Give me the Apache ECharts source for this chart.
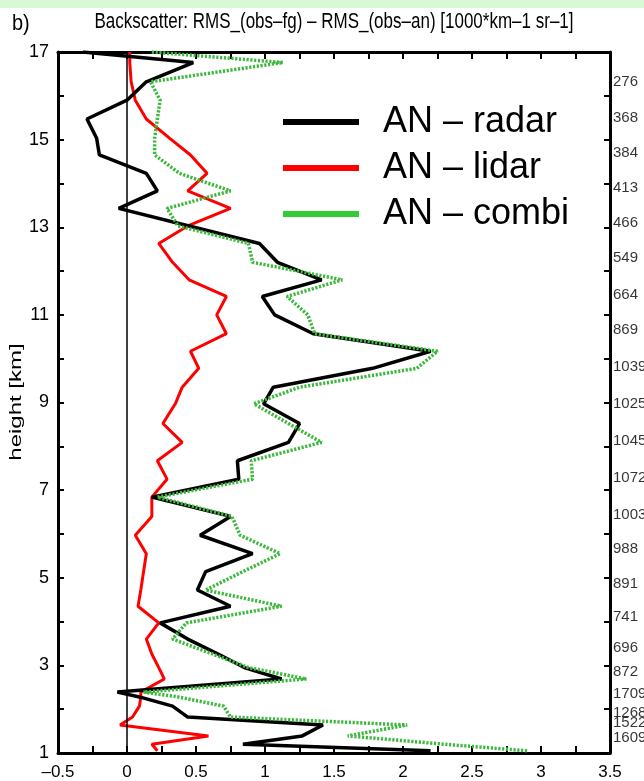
<!DOCTYPE html>
<html><head><meta charset="utf-8">
<script src="https://cdn.jsdelivr.net/npm/echarts@6/dist/echarts.min.js"></script>
<style>html,body{margin:0;padding:0;background:#fff}#c{width:644px;height:781px}</style>
</head><body><div id="c"></div>
<script>
// height levels [km] shared by the three profiles
const heights = [17.0, 16.76, 16.32, 15.9, 15.47, 15.03, 14.65, 14.23, 13.83, 13.43, 13.03, 12.63, 12.2, 11.8, 11.42, 11.0, 10.57, 10.17, 9.78, 9.35, 8.97, 8.52, 8.09, 7.67, 7.25, 6.84, 6.4, 5.97, 5.55, 5.14, 4.72, 4.35, 3.97, 3.6, 3.26, 2.95, 2.69, 2.39, 2.28, 2.07, 1.82, 1.64, 1.39, 1.2, 1.05];
// AN – radar (black)
const radar = [-0.32, 0.48, 0.14, 0.0, -0.29, -0.22, -0.20, 0.14, 0.22, -0.06, 0.45, 0.96, 1.09, 1.41, 0.98, 1.07, 1.35, 2.2, 1.78, 1.06, 0.99, 1.25, 1.17, 0.80, 0.81, 0.18, 0.75, 0.53, 0.91, 0.57, 0.51, 0.75, 0.24, 0.44, 0.66, 0.85, 1.12, -0.07, 0.09, 0.33, 0.44, 1.42, 1.27, 0.84, 2.2];
// AN – lidar (red)
const lidar = [0.02, 0.02, 0.03, 0.06, 0.14, 0.31, 0.46, 0.58, 0.44, 0.75, 0.44, 0.23, 0.33, 0.45, 0.72, 0.65, 0.72, 0.46, 0.52, 0.40, 0.35, 0.26, 0.40, 0.22, 0.29, 0.18, 0.18, 0.06, 0.14, 0.12, 0.10, 0.08, 0.23, 0.14, 0.18, 0.23, 0.27, 0.10, 0.10, 0.09, 0.04, -0.05, 0.59, 0.18, 0.22];
// AN – combi (green dotted)
const combi = [0.18, 1.13, 0.17, 0.24, 0.22, 0.20, 0.20, 0.38, 0.75, 0.29, 0.37, 0.88, 0.91, 1.56, 1.16, 1.31, 1.36, 2.25, 2.10, 1.25, 0.92, 1.17, 1.41, 0.90, 0.91, 0.22, 0.76, 0.82, 1.11, 0.84, 0.57, 1.12, 0.43, 0.33, 0.62, 0.88, 1.30, 0.12, 0.37, 0.70, 0.75, 2.03, 1.60, 2.30, 2.90];
// number of observations shown on the right side
const countHeights = [16.31, 15.49, 14.69, 13.89, 13.09, 12.29, 11.45, 10.65, 9.82, 8.98, 8.13, 7.29, 6.44, 5.66, 4.86, 4.11, 3.40, 2.85, 2.35, 1.91, 1.69, 1.34];
const countLabels = ['276', '368', '384', '413', '466', '549', '664', '869', '1039', '1025', '1045', '1072', '1003', '988', '891', '741', '696', '872', '1709', '1268', '1522', '1609'];
const xMax = 3.5;
const seriesNames = ['AN – radar', 'AN – lidar', 'AN – combi'];
const titleText = 'Backscatter: RMS_(obs–fg) – RMS_(obs–an) [1000*km–1 sr–1]';

const FONT = "'Liberation Sans', Arial, sans-serif";
const GREEN = '#3cb83c';
function pairs(vals) { return vals.map((v, i) => [v, heights[i]]); }

const chart = echarts.init(document.getElementById('c'), null, { renderer: 'canvas' });
const xCommon = {
  type: 'value', min: -0.5, max: xMax, interval: 0.25,
  splitLine: { show: false },
  axisLine: { show: true, onZero: false, lineStyle: { color: '#000', width: 3 } },
  axisTick: { show: true, inside: true, length: 7, lineStyle: { color: '#000', width: 2 } }
};
const yCommon = {
  type: 'value', min: 1, max: 17, interval: 1,
  splitLine: { show: false },
  axisLine: { show: true, onZero: false, lineStyle: { color: '#000', width: 3 } },
  axisTick: { show: true, inside: true, length: 6, lineStyle: { color: '#000', width: 2 } }
};
chart.setOption({
  animation: false,
  backgroundColor: '#ffffff',
  grid: { left: 58, right: 34, top: 52, bottom: 28, containLabel: false },
  xAxis: [
    Object.assign({}, xCommon, {
      position: 'bottom',
      axisLabel: {
        show: true, fontSize: 17, fontFamily: FONT, color: '#000', margin: 11,
        formatter: function (v) {
          const r = Math.round(v * 4);
          if (r % 2 !== 0) return '';
          return String(+v.toFixed(2)).replace('-', '–');
        }
      }
    }),
    Object.assign({}, xCommon, { position: 'top', axisLabel: { show: false } })
  ],
  yAxis: [
    Object.assign({}, yCommon, {
      position: 'left',
      axisLabel: {
        show: true, fontSize: 18, fontFamily: FONT, color: '#000', margin: 9,
        formatter: function (v) { return (Math.round(v) % 2 === 1) ? String(Math.round(v)) : ''; }
      }
    }),
    Object.assign({}, yCommon, { position: 'right', axisLabel: { show: false } })
  ],
  legend: {
    orient: 'vertical', left: 283, top: 99, padding: 0,
    itemWidth: 76, itemHeight: 6, itemGap: 0, icon: 'rect',
    selectedMode: false,
    textStyle: { fontSize: 36, lineHeight: 46, fontFamily: FONT, color: '#000', padding: [0, 0, 0, 19] },
    data: [
      { name: seriesNames[0], itemStyle: { color: '#000', borderWidth: 0 } },
      { name: seriesNames[1], itemStyle: { color: '#ff0000', borderWidth: 0 } },
      { name: seriesNames[2], itemStyle: { color: '#33cc33', borderWidth: 0 } }
    ]
  },
  graphic: [
    { type: 'rect', left: 0, top: 0, shape: { width: 644, height: 8 }, style: { fill: '#d8f8d6' }, silent: true, z: -10 },
    { type: 'text', x: 12, y: 24, scaleY: 1.1, silent: true,
      style: { text: 'b)', fontSize: 20, fontFamily: FONT, fill: '#000', align: 'left', verticalAlign: 'middle', textAlign: 'left', textVerticalAlign: 'middle' } },
    { type: 'text', x: 334, y: 22, scaleY: 1.3, silent: true,
      style: { text: titleText, fontSize: 17, fontFamily: FONT, fill: '#000', align: 'center', verticalAlign: 'middle', textAlign: 'center', textVerticalAlign: 'middle' } },
    { type: 'text', x: 17, y: 402, rotation: Math.PI / 2, scaleX: 1.5, silent: true,
      style: { text: 'height [km]', fontSize: 16, fontFamily: FONT, fill: '#000', align: 'center', verticalAlign: 'middle', textAlign: 'center', textVerticalAlign: 'middle' } }
  ],
  series: [
    {
      name: seriesNames[1], type: 'line', data: pairs(lidar), showSymbol: false, symbol: 'none',
      lineStyle: { color: '#ff0000', width: 3 }, itemStyle: { color: '#ff0000' },
      emphasis: { disabled: true }, silent: true, z: 2,
      markLine: {
        silent: true, symbol: ['none', 'none'], label: { show: false },
        lineStyle: { color: '#000', width: 1.5, type: 'solid' },
        emphasis: { disabled: true },
        data: [{ xAxis: 0 }]
      }
    },
    {
      name: seriesNames[0], type: 'line', data: pairs(radar), showSymbol: false, symbol: 'none',
      lineStyle: { color: '#000', width: 3.5 }, itemStyle: { color: '#000' },
      emphasis: { disabled: true }, silent: true, z: 3
    },
    {
      name: seriesNames[2], type: 'line', data: pairs(combi), showSymbol: false, symbol: 'none',
      lineStyle: { color: GREEN, width: 3.5, type: [2.2, 1.6] }, itemStyle: { color: '#33cc33' },
      emphasis: { disabled: true }, silent: true, z: 4
    },
    {
      name: 'counts', type: 'scatter', symbolSize: 0, silent: true, clip: false,
      data: countHeights.map((h) => [xMax, h]),
      itemStyle: { color: 'rgba(0,0,0,0)' },
      emphasis: { disabled: true },
      label: {
        show: true, position: 'right', distance: 3, fontSize: 15, fontFamily: FONT, color: '#000',
        formatter: function (p) { return countLabels[p.dataIndex]; }
      },
      labelLayout: { hideOverlap: false },
      z: 5
    }
  ]
});
</script>
</body></html>
